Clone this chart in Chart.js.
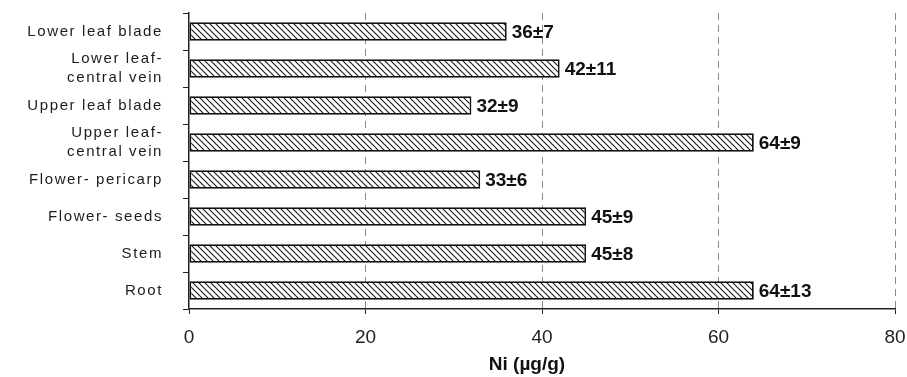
<!DOCTYPE html>
<html>
<head>
<meta charset="utf-8">
<script src="https://cdn.jsdelivr.net/npm/chart.js@4"></script>
<style>
    html, body { margin: 0; padding: 0; background: #fff; }
    #wrap { width: 907px; height: 377px; }
</style>
</head>
<body>
<div id="wrap"><canvas id="chart" width="907" height="377"></canvas></div>
<script>
// categories, top to bottom
const categories = [
    'Lower leaf blade',
    ['Lower leaf-', 'central vein'],
    'Upper leaf blade',
    ['Upper leaf-', 'central vein'],
    'Flower- pericarp',
    'Flower- seeds',
    'Stem',
    'Root'
];
const niValues = [36, 42, 32, 64, 33, 45, 45, 64];
const niErrors = [7, 11, 9, 9, 6, 9, 8, 13];
const xTicks = [0, 20, 40, 60, 80];
const xTitle = 'Ni (µg/g)';

const SANS = '"Liberation Sans", Arial, sans-serif';

function makeHatch() {
    const c = document.createElement('canvas');
    c.width = 6;
    c.height = 6;
    const g = c.getContext('2d');
    g.fillStyle = '#fff';
    g.fillRect(0, 0, 6, 6);
    g.strokeStyle = '#1a1a1a';
    g.lineWidth = 1.1;
    g.beginPath();
    g.moveTo(-1, -1);
    g.lineTo(7, 7);
    g.moveTo(-1, 5);
    g.lineTo(1, 7);
    g.moveTo(5, -1);
    g.lineTo(7, 1);
    g.stroke();
    return g.createPattern(c, 'repeat');
}

// category names: drawn by hand so they can get the wide letter spacing of the original
const categoryLabels = {
    id: 'categoryLabels',
    afterDraw(chart) {
        const ctx = chart.ctx;
        const y = chart.scales.y;
        ctx.save();
        ctx.font = '15px ' + SANS;
        ctx.letterSpacing = '1.6px';
        ctx.fillStyle = '#1c1c1c';
        ctx.textAlign = 'right';
        ctx.textBaseline = 'middle';
        categories.forEach((lab, i) => {
            const lines = Array.isArray(lab) ? lab : [lab];
            const mid = y.getPixelForValue(i);
            const lh = 19;
            lines.forEach((ln, k) => {
                const ty = mid + (k - (lines.length - 1) / 2) * lh;
                ctx.fillText(ln, 163, ty);
            });
        });
        ctx.letterSpacing = '0px';

        // axis title, sits a little left of the plot centre in the original
        const x = chart.scales.x;
        ctx.font = 'bold 19px ' + SANS;
        ctx.fillStyle = '#111';
        ctx.textAlign = 'center';
        ctx.fillText(xTitle, (x.left + x.right) / 2 - 15, 365);
        ctx.restore();
    }
};

// writes "36±7" etc. after the end of each bar
const valueLabels = {
    id: 'valueLabels',
    afterDatasetsDraw(chart) {
        const ctx = chart.ctx;
        const meta = chart.getDatasetMeta(0);
        ctx.save();
        ctx.font = 'bold 19px ' + SANS;
        ctx.fillStyle = '#111';
        ctx.textBaseline = 'middle';
        ctx.textAlign = 'left';
        meta.data.forEach((bar, i) => {
            ctx.fillText(niValues[i] + '±' + niErrors[i], bar.x + 5, bar.y + 1);
        });
        ctx.restore();
    }
};

new Chart(document.getElementById('chart'), {
    type: 'bar',
    data: {
        labels: categories,
        datasets: [{
            data: niValues,
            backgroundColor: makeHatch(),
            borderColor: '#111',
            borderWidth: 1.8,
            borderSkipped: false,
            barPercentage: 0.5,
            categoryPercentage: 1.0
        }]
    },
    options: {
        indexAxis: 'y',
        responsive: false,
        animation: false,
        layout: { padding: { top: 13, right: 12, left: 0, bottom: 0 } },
        plugins: {
            legend: { display: false },
            tooltip: { enabled: false }
        },
        scales: {
            x: {
                type: 'linear',
                min: 0,
                max: 80,
                afterBuildTicks: (scale) => { scale.ticks = xTicks.map(v => ({ value: v })); },
                afterFit: (scale) => {
                    scale.height = 68;
                    scale.paddingLeft = 0;
                    scale.paddingRight = 0;
                },
                border: { display: true, color: '#222', width: 1.5, dash: [7, 5] },
                grid: {
                    color: (c) => c.tick && c.tick.value === 0 ? 'rgba(0,0,0,0)' : '#8a8a8a',
                    lineWidth: 1,
                    drawTicks: true,
                    tickLength: 5,
                    tickColor: '#222'
                },
                ticks: {
                    color: '#222',
                    font: { family: SANS, size: 19 },
                    padding: 12
                },
                title: { display: false }
            },
            y: {
                type: 'category',
                afterFit: (scale) => {
                    scale.width = 189;
                    scale.paddingTop = 0;
                    scale.paddingBottom = 0;
                },
                border: { display: true, color: '#222', width: 1.5 },
                grid: {
                    offset: true,
                    drawOnChartArea: false,
                    drawTicks: true,
                    tickLength: 6,
                    tickColor: '#222'
                },
                ticks: { display: false, autoSkip: false }
            }
        }
    },
    plugins: [valueLabels, categoryLabels]
});
</script>
</body>
</html>
